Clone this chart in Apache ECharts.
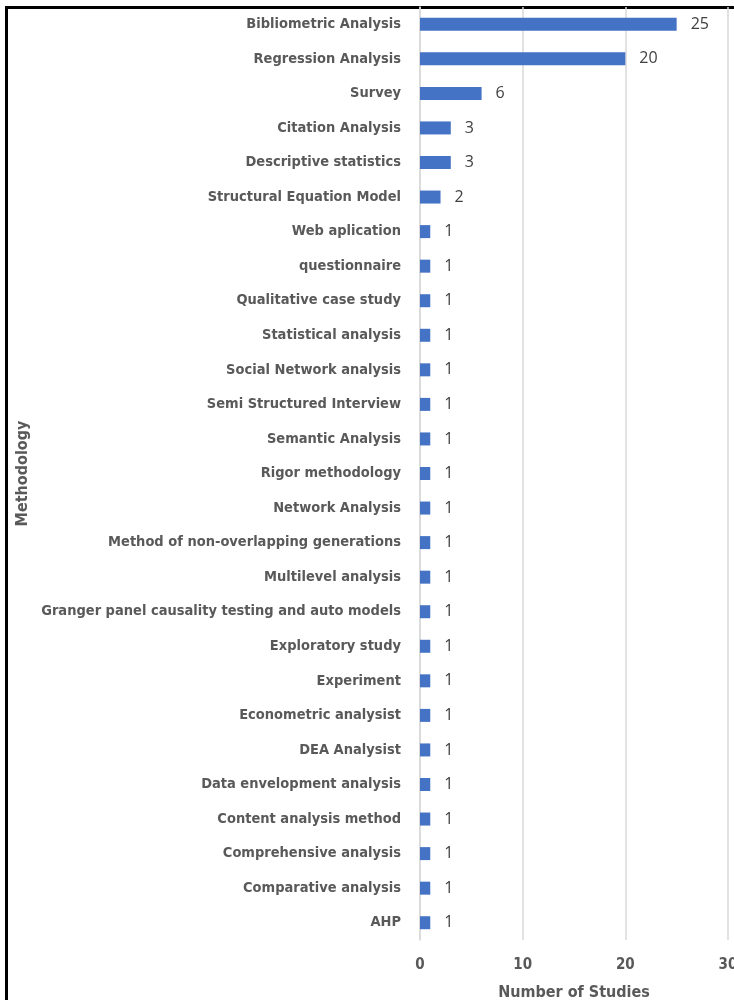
<!DOCTYPE html>
<html>
<head>
<meta charset="utf-8">
<script src="https://cdn.jsdelivr.net/npm/echarts@6/dist/echarts.min.js"></script>
<style>
html,body{margin:0;padding:0;background:#fff;}
#chart{width:734px;height:1000px;}
</style>
</head>
<body>
<div id="chart"></div>
<script>
var categories = [
  "Bibliometric Analysis","Regression Analysis","Survey","Citation Analysis",
  "Descriptive statistics","Structural Equation Model","Web aplication","questionnaire",
  "Qualitative case study","Statistical analysis","Social Network analysis",
  "Semi Structured Interview","Semantic Analysis","Rigor methodology","Network Analysis",
  "Method of non-overlapping generations","Multilevel analysis",
  "Granger panel causality testing and auto models","Exploratory study","Experiment",
  "Econometric analysist","DEA Analysist","Data envelopment analysis",
  "Content analysis method","Comprehensive analysis","Comparative analysis","AHP"
];
var values = [25,20,6,3,3,2,1,1,1,1,1,1,1,1,1,1,1,1,1,1,1,1,1,1,1,1,1];
var xTicks = [0,10,20,30];

var condensed = '"DejaVu Sans Condensed",sans-serif';
var chart = echarts.init(document.getElementById('chart'));
chart.setOption({
  animation:false,
  grid:{left:420,right:6,top:7,bottom:60,containLabel:false,outerBoundsMode:'none'},
  xAxis:{
    type:'value',min:xTicks[0],max:xTicks[xTicks.length-1],interval:10,
    name:'Number of Studies',nameLocation:'middle',nameGap:45,
    nameTextStyle:{fontFamily:condensed,fontWeight:'bold',fontSize:16,color:'#595959'},
    axisLine:{show:false},axisTick:{show:false},
    axisLabel:{fontFamily:condensed,fontWeight:'bold',fontSize:15,color:'#595959',margin:18},
    splitLine:{lineStyle:{color:'#d9d9d9',width:1.5}}
  },
  yAxis:{
    type:'category',data:categories,inverse:true,
    name:'Methodology',nameLocation:'middle',nameGap:389,nameRotate:90,
    nameTextStyle:{fontFamily:condensed,fontWeight:'bold',fontSize:16,color:'#595959'},
    axisLine:{show:true,lineStyle:{color:'#d9d9d9',width:1.5}},
    axisTick:{show:false},
    axisLabel:{fontFamily:condensed,fontWeight:'bold',fontSize:14.5,color:'#595959',margin:19}
  },
  series:[{
    type:'bar',data:values,barWidth:13,
    itemStyle:{color:'#4472C4'},
    label:{show:true,position:'right',distance:14,fontFamily:'"Open Sans","DejaVu Sans",sans-serif',fontSize:16,color:'#404040'}
  }],
  graphic:[{
    type:'rect',shape:{x:6.5,y:7.5,width:900,height:1100},
    style:{fill:'none',stroke:'#000',lineWidth:3},silent:true
  }]
});
</script>
</body>
</html>
